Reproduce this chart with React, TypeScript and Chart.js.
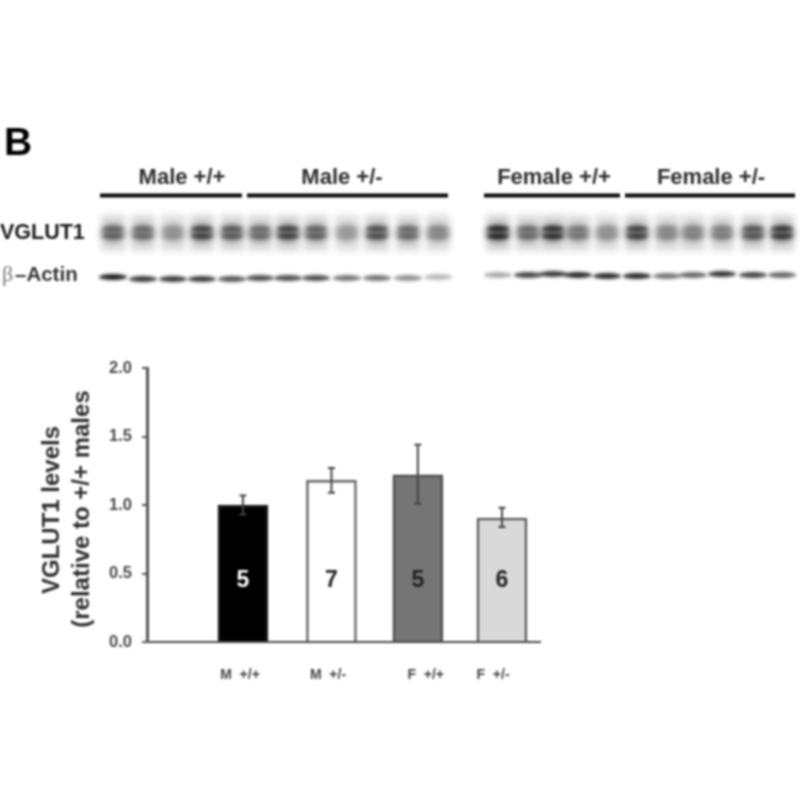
import React, { useEffect, useRef } from "react";
import { Chart, registerables } from "chart.js";

Chart.register(...registerables);

// ---- bar chart data ----
const groups = ["M +/+", "M +/-", "F +/+", "F +/-"];
const barSlots = [1, 2.017, 3.01, 3.977];
const labelSlots = [0.966, 1.977, 3.1, 3.874];
const means = [1.0, 1.18, 1.22, 0.905];
const errLow = [0.93, 1.09, 1.01, 0.84];
const errHigh = [1.07, 1.27, 1.44, 0.98];
const sampleSizes = ["5", "7", "5", "6"];
const sampleColors = ["#ffffff", "#222222", "#222222", "#222222"];
const barColors = ["#000000", "#ffffff", "#757575", "#d9d9d9"];
const barEdges = ["#1a1a1a", "#666666", "#4d4d4d", "#5a5a5a"];
const yTicks = [0, 0.5, 1, 1.5, 2];

// ---- blot data (positions on the membrane, and band darkness per lane) ----
const vglutLanes = [113, 143, 173, 202, 232, 260, 288, 316, 347, 377, 408, 438, 498, 528, 553, 578, 607, 637, 667, 693, 722, 753, 782];
const vglutDark = [0.65, 0.6, 0.35, 0.82, 0.7, 0.6, 0.82, 0.65, 0.3, 0.75, 0.6, 0.42, 0.98, 0.6, 0.92, 0.52, 0.36, 0.82, 0.42, 0.46, 0.48, 0.72, 0.88];
const actinDark = [0.85, 0.72, 0.72, 0.72, 0.62, 0.65, 0.65, 0.65, 0.5, 0.5, 0.4, 0.25, 0.3, 0.68, 0.72, 0.78, 0.78, 0.78, 0.5, 0.55, 0.74, 0.68, 0.55];
const actinRow = [277, 279, 279, 279, 279, 278, 278, 278, 278, 278, 278, 277, 275, 275, 274, 275, 276, 276, 276, 275, 274, 275, 275];
const vglutRow = 232;
const groupLines = [[100, 242], [247, 448], [484, 620], [625, 795]];
const groupLineRow = 195.5;
const groupNames = ["Male +/+", "Male +/-", "Female +/+", "Female +/-"];
const groupNameX = [182, 342, 554, 711];

const spriteCache: Record<string, HTMLCanvasElement> = {};

function vglutSprite(dark: number) {
  const key = "v" + dark;
  if (spriteCache[key]) return spriteCache[key];
  const c = document.createElement("canvas");
  c.width = 44;
  c.height = 62;
  const g = c.getContext("2d")!;
  g.filter = "blur(3px)";
  g.fillStyle = `rgba(90,90,90,${0.16 + dark * 0.1})`;
  g.fillRect(10, 14, 24, 36);
  g.fillStyle = `rgba(55,55,55,${0.25 + dark * 0.5})`;
  g.beginPath();
  g.ellipse(22, 32, 12, 8.5, 0, 0, Math.PI * 2);
  g.fill();
  g.filter = "blur(1.8px)";
  g.fillStyle = `rgba(10,10,10,${dark * dark * 0.75})`;
  g.beginPath();
  g.ellipse(22, 27.5, 11, 2.6, 0, 0, Math.PI * 2);
  g.fill();
  g.beginPath();
  g.ellipse(22, 35.5, 11, 2.4, 0, 0, Math.PI * 2);
  g.fill();
  spriteCache[key] = c;
  return c;
}

function actinSprite(dark: number) {
  const key = "a" + dark;
  if (spriteCache[key]) return spriteCache[key];
  const c = document.createElement("canvas");
  c.width = 40;
  c.height = 16;
  const g = c.getContext("2d")!;
  g.filter = "blur(1.4px)";
  g.fillStyle = `rgba(25,25,25,${Math.min(1, dark * 1.2)})`;
  g.beginPath();
  g.ellipse(20, 8, 14, 3, 0, 0, Math.PI * 2);
  g.fill();
  spriteCache[key] = c;
  return c;
}

const blotText = {
  id: "blotText",
  afterDatasetsDraw(chart: any) {
    const { ctx, scales } = chart;
    const px = (v: number) => scales.x.getPixelForValue(v);
    const py = (v: number) => scales.y.getPixelForValue(v);
    ctx.save();
    ctx.textBaseline = "alphabetic";
    ctx.textAlign = "center";
    ctx.fillStyle = "#2e2e2e";
    ctx.font = "bold 22px 'Liberation Sans'";
    groupNames.forEach((n, i) => ctx.fillText(n, px(groupNameX[i]), py(184)));
    ctx.textAlign = "left";
    ctx.fillStyle = "#000000";
    ctx.font = "bold 39px 'Liberation Sans'";
    ctx.fillText("B", px(4), py(155));
    ctx.fillStyle = "#1a1a1a";
    ctx.font = "bold 21.5px 'Liberation Sans'";
    ctx.fillText("VGLUT1", px(0), py(239));
    ctx.fillStyle = "#777777";
    ctx.font = "22px 'Liberation Serif'";
    ctx.fillText("β", px(2), py(281));
    ctx.fillStyle = "#333333";
    ctx.font = "bold 20.5px 'Liberation Sans'";
    ctx.fillText("–Actin", px(15), py(281));
    ctx.restore();
  },
};

const barExtras = {
  id: "barExtras",
  afterDatasetsDraw(chart: any) {
    const { ctx, scales } = chart;
    const x = scales.x;
    const y = scales.y;
    ctx.save();
    means.forEach((_, i) => {
      const cx = x.getPixelForValue(barSlots[i]);
      const hi = y.getPixelForValue(errHigh[i]);
      const lo = y.getPixelForValue(errLow[i]);
      ctx.strokeStyle = "#444444";
      ctx.lineWidth = 2;
      ctx.beginPath();
      ctx.moveTo(cx, hi);
      ctx.lineTo(cx, lo);
      ctx.moveTo(cx - 3.5, hi);
      ctx.lineTo(cx + 3.5, hi);
      ctx.moveTo(cx - 3.5, lo);
      ctx.lineTo(cx + 3.5, lo);
      ctx.stroke();
      ctx.fillStyle = sampleColors[i];
      ctx.font = "bold 23px 'Liberation Sans'";
      ctx.textAlign = "center";
      ctx.textBaseline = "middle";
      ctx.fillText(sampleSizes[i], cx, y.getPixelForValue(0.45));
    });
    ctx.fillStyle = "#2e2e2e";
    ctx.font = "bold 24px 'Liberation Sans'";
    ctx.textAlign = "center";
    ctx.textBaseline = "middle";
    ctx.translate(52, 510);
    ctx.rotate(-Math.PI / 2);
    ctx.fillText("VGLUT1 levels", 0, 0);
    ctx.font = "bold 24px 'Liberation Sans'";
    ctx.fillText("(relative to +/+ males", 1, 30);
    ctx.restore();
  },
};

export default function App() {
  const blotRef = useRef<HTMLCanvasElement>(null);
  const barRef = useRef<HTMLCanvasElement>(null);

  useEffect(() => {
    const blot = new Chart(blotRef.current!, {
      type: "scatter",
      data: {
        datasets: [
          {
            label: "VGLUT1",
            data: vglutLanes.map((x) => ({ x, y: vglutRow })),
            pointStyle: (c: any) => vglutSprite(vglutDark[c.dataIndex]),
            pointRadius: 1,
          },
          {
            label: "β-Actin",
            data: vglutLanes.map((x, i) => ({ x, y: actinRow[i] })),
            pointStyle: (c: any) => actinSprite(actinDark[c.dataIndex]),
            pointRadius: 1,
          },
          ...groupLines.map((g, i) => ({
            label: groupNames[i],
            data: g.map((x) => ({ x, y: groupLineRow })),
            showLine: true,
            borderColor: "#0a0a0a",
            borderWidth: 4,
            pointRadius: 0,
          })),
        ],
      } as any,
      options: {
        responsive: false,
        animation: false,
        layout: { padding: 0, autoPadding: false },
        plugins: { legend: { display: false }, tooltip: { enabled: false } },
        scales: {
          x: { type: "linear", min: 0, max: 800, display: false },
          y: { type: "linear", min: 0, max: 800, reverse: true, display: false },
        },
      },
      plugins: [blotText],
    } as any);

    const bar = new Chart(barRef.current!, {
      type: "bar",
      data: {
        datasets: [
          {
            label: "VGLUT1 levels",
            data: means.map((y, i) => ({ x: barSlots[i], y })),
            backgroundColor: barColors,
            borderColor: barEdges,
            borderWidth: 2.5,
            barThickness: 50,
          },
        ],
      },
      options: {
        responsive: false,
        animation: false,
        layout: { padding: { top: 368, right: 260, left: 0, bottom: 0 } },
        plugins: { legend: { display: false }, tooltip: { enabled: false } },
        scales: {
          x: {
            type: "linear",
            offset: false,
            min: -0.103,
            max: 4.414,
            afterFit: (s: any) => { s.height = 158; },
            afterBuildTicks: (s: any) => { s.ticks = labelSlots.map((value) => ({ value })); },
            grid: { display: false },
            border: { display: true, color: "#4a4a4a", width: 2 },
            ticks: {
              autoSkip: false,
              maxRotation: 0,
              padding: 17,
              color: "#444444",
              font: { family: "'Liberation Sans'", weight: "bold", size: 14 },
              callback: (_v: any, i: number) => groups[i].replace(" ", "  "),
            },
          },
          y: {
            min: 0,
            max: 2,
            afterFit: (s: any) => { s.width = 147; },
            afterBuildTicks: (s: any) => { s.ticks = yTicks.map((value) => ({ value })); },
            grid: { drawOnChartArea: false, drawTicks: true, tickLength: 5, color: "#555555", lineWidth: 2 },
            border: { display: true, color: "#555555", width: 3 },
            ticks: {
              padding: 10,
              color: "#484848",
              font: { family: "'Liberation Sans'", weight: "bold", size: 16.5 },
              callback: (v: any) => Number(v).toFixed(1),
            },
          },
        },
      },
      plugins: [barExtras],
    } as any);

    return () => {
      blot.destroy();
      bar.destroy();
    };
  }, []);

  const layer: React.CSSProperties = { position: "absolute", left: 0, top: 0, filter: "blur(0.8px)" };
  return (
    <div style={{ position: "absolute", left: 0, top: 0, width: 800, height: 800, background: "#fff", overflow: "hidden" }}>
      <canvas ref={blotRef} width={800} height={800} style={layer} />
      <canvas ref={barRef} width={800} height={800} style={layer} />
    </div>
  );
}
